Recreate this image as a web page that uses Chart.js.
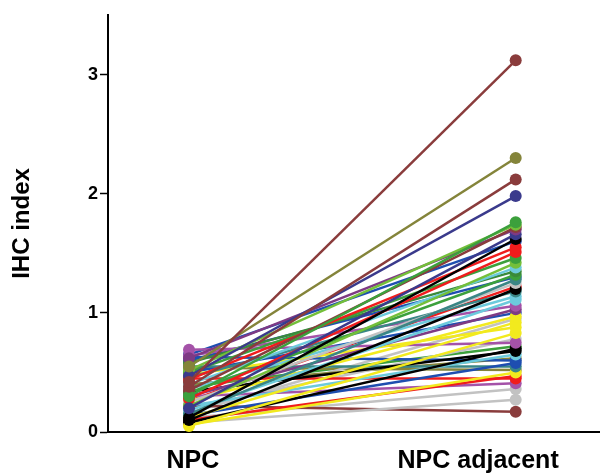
<!DOCTYPE html>
<html>
<head>
<meta charset="utf-8">
<title>IHC index NPC vs NPC adjacent</title>
<script src="https://cdn.jsdelivr.net/npm/chart.js@4.4.1/dist/chart.umd.min.js"></script>
<style>
    html, body { margin: 0; padding: 0; background: #fff; }
    #ihcChart { display: block; }
</style>
</head>
<body>
<canvas id="ihcChart" width="605" height="473"></canvas>
<script>
// Group labels on the x axis
const groupLabels = ['NPC', 'NPC adjacent'];

// IHC index per patient: tumour (NPC) and adjacent tissue
const npcValues = [
    0.42, 0.55, 0.38, 0.47, 0.30, 0.52, 0.35, 0.62, 0.20, 0.12,
    0.44, 0.28, 0.50, 0.22, 0.40, 0.58, 0.33, 0.15, 0.25, 0.10,
    0.46, 0.36, 0.18, 0.64, 0.30, 0.26, 0.12, 0.48, 0.05, 0.69,
    0.08, 0.34, 0.22, 0.63, 0.14, 0.55, 0.06, 0.10, 0.45, 0.30,
    0.08, 0.22, 0.60, 0.50, 0.20, 0.40, 0.16, 0.54, 0.26, 0.38,
    0.65, 0.12
];
const adjacentValues = [
    3.12, 2.30, 2.12, 1.98, 1.76, 1.74, 1.72, 1.70, 1.66, 1.62,
    1.55, 1.51, 1.46, 1.42, 1.38, 1.35, 1.32, 1.28, 1.25, 1.20,
    1.18, 1.14, 1.11, 1.06, 1.03, 0.97, 0.92, 0.88, 0.83, 0.75,
    0.70, 0.68, 0.65, 0.60, 0.58, 0.55, 0.50, 0.47, 0.45, 0.41,
    0.27, 0.17, 1.30, 1.00, 0.78, 0.62, 0.95, 0.52, 1.22, 0.72,
    1.60, 0.36
];

// y ticks
const yTickValues = [0, 1, 2, 3];

// SigmaPlot-like colours, one per patient
const palette = {
    black: '#000000', red: '#f01c1c', green: '#3ca03c', lime: '#74bf3a',
    yellow: '#f2ea1e', blue: '#1e4eb0', purple: '#a452a8', cyan: '#6ccadc',
    gray: '#c2c2c2', maroon: '#8a3c3c', olive: '#84843a', navy: '#3a3a8c',
    plum: '#7e3a84', teal: '#3a8686', dgreen: '#3a8a3a'
};
const seriesColors = [
    'maroon', 'olive', 'maroon', 'navy', 'green', 'lime', 'maroon', 'plum', 'navy', 'black',
    'red', 'red', 'green', 'lime', 'cyan', 'dgreen', 'green', 'teal', 'gray', 'black',
    'teal', 'cyan', 'cyan', 'purple', 'plum', 'yellow', 'yellow', 'yellow', 'yellow', 'purple',
    'black', 'black', 'cyan', 'blue', 'blue', 'teal', 'yellow', 'red', 'red', 'purple',
    'gray', 'maroon', 'blue', 'blue', 'gray', 'olive', 'gray', 'olive', 'red', 'green',
    'blue', 'gray'
];

// where the points sit on the x axis (0 = NPC, 1 = NPC adjacent)
const groupX = [0, 1];
// label anchors (the original labels are not centred on the points)
const labelX = [0.012, 0.885];

// drop the extra padding chart.js reserves for edge labels
function noEdgePadding(s) {
    s.paddingTop = 0;
    s.paddingBottom = 0;
    s.paddingLeft = 0;
    s.paddingRight = 0;
}

const ihcPlot = {
    init: function() {
        const ctx = document.getElementById('ihcChart').getContext('2d');

        const datasets = npcValues.map((v, i) => {
            const c = palette[seriesColors[i]];
            return {
                label: 'Patient ' + (i + 1),
                data: [
                    { x: groupX[0], y: v },
                    { x: groupX[1], y: adjacentValues[i] }
                ],
                borderColor: c,
                backgroundColor: c,
                borderWidth: 2.5,
                pointRadius: 6,
                pointBorderWidth: 0,
                pointBackgroundColor: c
            };
        });

        const axisFont = { family: 'Liberation Sans, Arial, sans-serif', weight: 'bold' };

        new Chart(ctx, {
            type: 'line',
            data: { datasets: datasets },
            options: {
                responsive: false,
                animation: false,
                clip: false,
                layout: { padding: { top: 15, left: 0, right: 0, bottom: 0 } },
                plugins: {
                    legend: { display: false },
                    tooltip: { enabled: false }
                },
                scales: {
                    x: {
                        type: 'linear',
                        min: -0.248,
                        max: 1.255,
                        afterBuildTicks: s => { s.ticks = labelX.map(v => ({ value: v })); },
                        afterFit: s => { s.height = 41; noEdgePadding(s); },
                        grid: { display: false, drawTicks: false },
                        border: { color: '#000', width: 2 },
                        ticks: {
                            padding: 14,
                            color: '#000',
                            maxRotation: 0,
                            font: Object.assign({ size: 25 }, axisFont),
                            callback: (val, idx) => groupLabels[idx]
                        }
                    },
                    y: {
                        min: 0,
                        max: 3.5,
                        afterBuildTicks: s => { s.ticks = yTickValues.map(v => ({ value: v })); },
                        afterFit: s => { s.width = 108; noEdgePadding(s); },
                        grid: {
                            drawOnChartArea: false,
                            drawTicks: true,
                            tickLength: 8,
                            tickColor: '#000',
                            tickWidth: 1.5
                        },
                        border: { color: '#000', width: 2 },
                        ticks: {
                            padding: 2,
                            color: '#000',
                            font: Object.assign({ size: 18 }, axisFont)
                        },
                        title: {
                            display: true,
                            text: 'IHC index',
                            color: '#000',
                            padding: { top: 8, bottom: 0 },
                            font: Object.assign({ size: 24 }, axisFont)
                        }
                    }
                }
            }
        });
    }
};

ihcPlot.init();
</script>
</body>
</html>
